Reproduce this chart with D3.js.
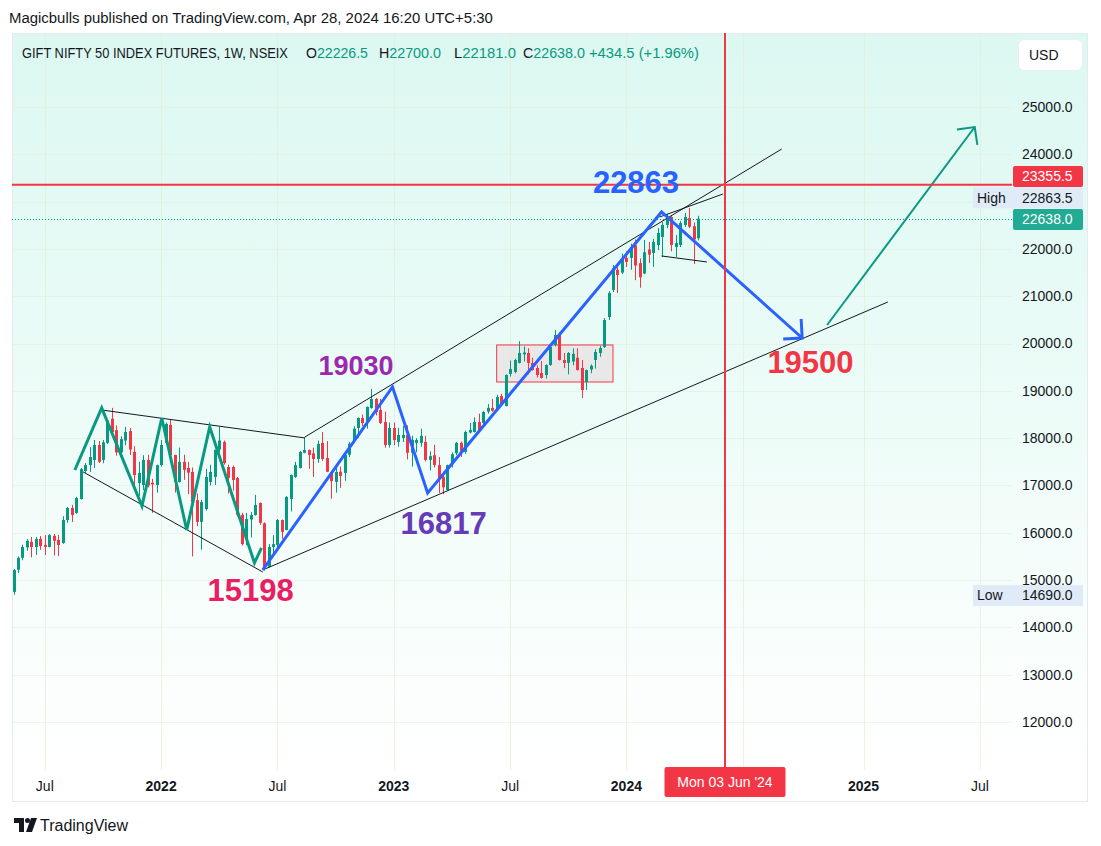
<!DOCTYPE html>
<html><head><meta charset="utf-8">
<script src="https://cdn.jsdelivr.net/npm/d3@7"></script>
<style>
html,body{margin:0;padding:0;background:#fff;}
svg{display:block;font-family:"Liberation Sans",Arial,sans-serif;}
</style>
</head><body>
<svg id="chart" width="1101" height="846"></svg>
<script>
// ---------- DATA (weekly GIFT NIFTY futures) ----------
const firstWeek = "2021-05-17";
const open = [14750,15220,15470,15690,15810,15700,15870,15745,15700,15935,
15850,15785,16270,16525,16420,16715,17305,17430,17540,17855,
17540,17900,18410,18170,17700,17950,18150,17710,17050,17010,
17540,17060,17010,17430,17900,18280,17645,17075,17500,17370,
17285,16690,16230,16500,17075,17180,17760,17920,17390,17390,
17158,16380,15880,16280,16375,16630,16200,15280,15700,15745,
16270,16060,16715,17180,17370,17690,17750,17680,17560,17900,
17580,17280,17075,17290,17265,17650,17950,18215,18426,18342,
18638,18828,18595,18342,17856,18215,17920,18004,18067,17690,
17900,17900,17920,17540,17640,17430,17180,16905,17450,17680,
17900,17710,18120,18130,18340,18320,18560,18640,18596,18891,
18680,19356,19400,19590,19770,19800,19590,19483,19377,19335,
19547,19970,20180,19652,19590,19620,19700,19483,19187,19450,
19652,19800,19927,20561,21132,21560,21500,21810,21810,22080,
21700,21480,21990,21914,22083,22253,22506,22675,22040,22083,
22506,22650,22480,22226.5];
const high = [15230,15500,15750,15870,15910,15910,15930,15950,15975,15975,
15955,16350,16545,16590,16760,17370,17475,17810,17960,17940,
17960,18380,18640,18270,18040,18240,18215,17830,17500,17640,
17650,17140,17440,17960,18330,18400,17650,17800,17650,17500,
17380,16830,16700,17350,17440,17760,18240,17950,17440,17420,
17180,16420,16420,16440,16800,16640,16220,15760,15950,16290,
16280,16770,17230,17500,17730,18025,17760,17800,17950,18130,
17940,17300,17450,17400,17660,17920,18250,18440,18500,18670,
19040,18850,18830,18560,18330,18330,18220,18260,18270,18050,
18000,18200,18050,17720,17860,17600,17290,17440,17700,17920,
17930,18160,18320,18440,18520,18570,18720,18830,18920,18940,
19350,19640,19680,20050,19940,19900,19700,19540,19630,19560,
19960,20287,20240,19800,19820,19900,19900,19650,19450,19560,
19880,19950,20540,21110,21660,21700,21900,21950,22110,22200,
21800,22190,22150,22210,22443,22570,22740,22717,22294,22590,
22760,22863.5,22560,22700];
const low = [14690,15150,15420,15620,15480,15530,15640,15530,15690,15520,
15510,15765,16210,16230,16400,16700,17265,17285,17370,17475,
17470,17880,18060,17630,17620,17850,17645,17000,16780,16900,
16960,16420,16850,17400,17880,17580,16850,17060,17120,16820,
15500,16140,15640,16470,17000,17010,17700,17440,16830,16890,
16340,15730,15740,15900,16360,16170,15198,15270,15520,15670,
15870,16050,16450,17160,17360,17680,17350,17180,17480,17520,
17280,16720,16850,16950,17100,17600,17900,18000,18250,18200,
18620,18480,18300,17800,17800,17850,17820,17920,17550,17400,
17700,17820,17510,17320,17380,16840,16817,16890,17380,17640,
17600,17670,18100,18120,18120,18240,18520,18560,18590,18690,
18670,19300,19370,19580,19620,19350,19430,19280,19260,19260,
19530,19940,19640,19480,19350,19540,19430,18850,19020,19370,
19470,19720,19906,20498,21090,21070,21470,21620,21560,21340,
21180,21470,21700,21620,21977,21830,22440,21950,21830,22040,
22464,22440,21680,22181];
const close = [15210,15470,15700,15830,15700,15870,15720,15700,15950,15830,
15740,16270,16525,16375,16735,17345,17430,17600,17855,17500,
17910,18370,18130,17700,17980,18130,17760,17220,17265,17540,
17000,17020,17430,17855,18300,17645,17075,17500,17330,17270,
16650,16230,16650,17180,17285,17750,17950,17475,17160,17115,
16380,15760,16290,16375,16590,16210,15280,15700,15760,16270,
16020,16760,17220,17430,17710,17750,17645,17560,17880,17560,
17290,17090,17285,17200,17645,17880,18200,18426,18320,18659,
18828,18553,18320,17856,18215,17960,18067,18067,17690,17960,
17960,18050,17540,17620,17430,17158,16960,17430,17660,17900,
17690,18130,18175,18342,18170,18553,18640,18580,18870,18700,
19335,19462,19652,19800,19810,19590,19440,19335,19272,19547,
19927,20180,19652,19590,19800,19780,19440,19018,19440,19530,
19821,19906,20498,21069,21597,21450,21780,21725,22040,21650,
21400,21930,21880,22147,22337,22506,22675,22083,22125,22548,
22675,22470,22200,22638];

const priceTicks = [12000,13000,14000,15000,16000,17000,18000,19000,20000,21000,22000,23000,24000,25000];
const timeTickDates = ["2021-07-05","2022-01-03","2022-07-04","2023-01-02","2023-07-03","2024-01-01","2024-07-01","2025-01-06","2025-07-07"];
const timeTickLabels = ["Jul","2022","Jul","2023","Jul","2024","Jul","2025","Jul"];

// drawings (date, price)
const greenWave = [["2021-08-21",17327],["2021-10-02",18638],["2021-12-04",16566],["2022-01-04",18426],["2022-02-12",16059],["2022-03-20",18236],["2022-05-29",15362],["2022-06-09",15679]];
const blueWave = [["2022-06-11",15214],["2022-12-31",19082],["2023-02-24",16841],["2024-02-25",22781],["2024-10-02",20117]];
const greenArrow = [["2024-11-10",20392],["2025-06-29",24577]];
const trendLines = [
  [["2021-10-02",18595],["2022-08-16",18004]],
  [["2021-09-03",17285],["2022-06-11",15171]],
  [["2022-06-11",15214],["2025-02-13",20878]],
  [["2022-08-16",18025],["2024-08-31",24112]],
  [["2024-02-22",22675],["2024-05-31",23161]],
  [["2024-02-25",21851],["2024-05-06",21724]]
];
const rangeBox = [["2023-06-12",19970],["2023-12-11",19187]];
const waveLabels = [
  {text:"22863", date:"2024-01-16", price:23182, color:"#2962ff", size:31},
  {text:"19030", date:"2022-11-04", price:19335, color:"#9c27b0", size:27},
  {text:"16817", date:"2023-03-21", price:15974, color:"#673ab7", size:31},
  {text:"15198", date:"2022-05-23", price:14558, color:"#e91e63", size:31},
  {text:"19500", date:"2024-10-15", price:19378, color:"#f23645", size:31}
];
const resistance = 23355.5, lastPrice = 22638.0, highPrice = 22863.5, lowPrice = 14690.0;
const crosshairDate = "2024-06-03", crosshairLabel = "Mon 03 Jun '24";

// ---------- CHART ----------
const parse = d3.utcParse("%Y-%m-%d");
const start = parse(firstWeek);
const data = open.map((o,i)=>({date:d3.utcDay.offset(start,7*i), o, h:high[i], l:low[i], c:close[i]}));

const F = {l:12, r:1088, t:33, b:770, ab:802, pr:1012};
const x = d3.scaleUtc().domain([parse("2021-05-17"), parse("2024-04-22")]).range([13.5, 698]);
const y = d3.scaleLinear().domain([12000,25000]).range([722,107]);
const UP="#089981", DOWN="#f23645";

const svg = d3.select("#chart");
const defs = svg.append("defs");
const gr = defs.append("linearGradient").attr("id","bg").attr("x1",0).attr("y1",0).attr("x2",0).attr("y2",1);
gr.append("stop").attr("offset","0").attr("stop-color","#dcf8f1");
gr.append("stop").attr("offset","0.55").attr("stop-color","#eefcf8");
gr.append("stop").attr("offset","1").attr("stop-color","#ffffff");
defs.append("clipPath").attr("id","plotclip").append("rect").attr("x",F.l).attr("y",F.t).attr("width",F.r-F.l).attr("height",F.b-F.t);

svg.append("rect").attr("width",1101).attr("height",846).attr("fill","#fff");
svg.append("rect").attr("x",F.l).attr("y",F.t).attr("width",F.r-F.l).attr("height",F.b-F.t).attr("fill","url(#bg)");
svg.append("rect").attr("x",F.l+0.5).attr("y",F.t+0.5).attr("width",F.r-F.l-1).attr("height",F.ab-F.t-1).attr("fill","none").attr("stroke","#e6e9ee");

const plot = svg.append("g").attr("clip-path","url(#plotclip)");

// grid
plot.selectAll("line.vg").data(timeTickDates).join("line")
  .attr("x1",d=>Math.round(x(parse(d)))+0.5).attr("x2",d=>Math.round(x(parse(d)))+0.5)
  .attr("y1",F.t).attr("y2",F.b).attr("stroke","#e3ecd9").attr("stroke-opacity",0.7);
plot.selectAll("line.hg").data(priceTicks).join("line")
  .attr("x1",F.l).attr("x2",F.pr).attr("y1",d=>Math.round(y(d))+0.5).attr("y2",d=>Math.round(y(d))+0.5)
  .attr("stroke","#e3ecd9").attr("stroke-opacity",0.5);

// range box
plot.append("rect")
  .attr("x",x(parse(rangeBox[0][0]))).attr("y",y(rangeBox[0][1]))
  .attr("width",x(parse(rangeBox[1][0]))-x(parse(rangeBox[0][0])))
  .attr("height",y(rangeBox[1][1])-y(rangeBox[0][1]))
  .attr("fill","rgba(232,226,228,0.75)").attr("stroke","#f23645").attr("stroke-width",1);

// candles
const cg = plot.append("g");
cg.selectAll("line").data(data).join("line")
  .attr("x1",d=>Math.round(x(d.date))+0.5).attr("x2",d=>Math.round(x(d.date))+0.5)
  .attr("y1",d=>y(d.h)).attr("y2",d=>y(d.l))
  .attr("stroke",d=>d.c>=d.o?UP:DOWN).attr("stroke-width",1);
cg.selectAll("rect").data(data).join("rect")
  .attr("x",d=>Math.round(x(d.date))-1).attr("width",3)
  .attr("y",d=>y(Math.max(d.o,d.c))).attr("height",d=>Math.max(1,Math.abs(y(d.o)-y(d.c))))
  .attr("fill",d=>d.c>=d.o?UP:DOWN);

const pt = p=>[x(parse(p[0])), y(p[1])];
const lineGen = d3.line();

// trend lines
plot.selectAll("path.tl").data(trendLines).join("path")
  .attr("d",d=>lineGen(d.map(pt))).attr("fill","none").attr("stroke","#131722").attr("stroke-width",1);

// green wave
plot.append("path").attr("d",lineGen(greenWave.map(pt))).attr("fill","none")
  .attr("stroke","#089981").attr("stroke-width",3).attr("stroke-linejoin","miter");

function arrowHead(tip, from, len){
  const a = Math.atan2(from[1]-tip[1], from[0]-tip[0]);
  const p1 = [tip[0]+len*Math.cos(a+Math.PI/4), tip[1]+len*Math.sin(a+Math.PI/4)];
  const p2 = [tip[0]+len*Math.cos(a-Math.PI/4), tip[1]+len*Math.sin(a-Math.PI/4)];
  return lineGen([p1,tip,p2]);
}
// blue wave
const bw = blueWave.map(pt);
plot.append("path").attr("d",lineGen(bw)).attr("fill","none")
  .attr("stroke","#2962ff").attr("stroke-width",3).attr("stroke-linejoin","miter");
plot.append("path").attr("d",arrowHead(bw[bw.length-1], bw[bw.length-2], 19)).attr("fill","none")
  .attr("stroke","#2962ff").attr("stroke-width",3);
// green arrow
const ga = greenArrow.map(pt);
plot.append("path").attr("d",lineGen(ga)).attr("fill","none").attr("stroke","#089981").attr("stroke-width",2);
plot.append("path").attr("d",arrowHead(ga[1], ga[0], 18)).attr("fill","none").attr("stroke","#089981").attr("stroke-width",2);

// price lines
plot.append("line").attr("x1",F.l).attr("x2",F.pr).attr("y1",y(resistance)).attr("y2",y(resistance))
  .attr("stroke","#f23645").attr("stroke-width",2);
plot.append("line").attr("x1",F.l).attr("x2",F.pr).attr("y1",Math.round(y(lastPrice))+0.5).attr("y2",Math.round(y(lastPrice))+0.5)
  .attr("stroke","#089981").attr("stroke-width",1).attr("stroke-dasharray","1,2");
const cx = Math.round(x(parse(crosshairDate)));
svg.append("line").attr("x1",cx).attr("x2",cx).attr("y1",F.t).attr("y2",F.b)
  .attr("stroke","#f23645").attr("stroke-width",2);

// wave labels
plot.selectAll("text.wl").data(waveLabels).join("text")
  .attr("x",d=>x(parse(d.date))).attr("y",d=>y(d.price))
  .attr("text-anchor","middle").attr("font-weight","bold").attr("font-size",d=>d.size)
  .attr("fill",d=>d.color).text(d=>d.text);

// price axis: tags first (positions), then tick labels that are not hidden by a tag
const tags = [
  {yc:y(resistance)-8.3, label:null, val:resistance, bg:"#f23645", fg:"#ffffff"},
  {yc:y(highPrice)-10.4, label:"High", val:highPrice, bg:"#e1ebf8", fg:"#131722"},
  {yc:y(lastPrice)+0.8, label:null, val:lastPrice, bg:"#22ab94", fg:"#ffffff"},
  {yc:y(lowPrice)+0.8, label:"Low", val:lowPrice, bg:"#e1ebf8", fg:"#131722"}
];
const shownTicks = priceTicks.filter(v=>tags.every(t=>Math.abs(y(v)-t.yc)>=15));
svg.append("g").selectAll("text").data(shownTicks).join("text")
  .attr("x",1022).attr("y",d=>y(d)).attr("dy","0.35em").attr("font-size",14).attr("fill","#131722")
  .text(d=>d.toFixed(1));
tags.forEach(t=>{
  const g = svg.append("g");
  if(t.label){
    g.append("rect").attr("x",973).attr("y",t.yc-10.5).attr("width",40).attr("height",21).attr("fill",t.bg);
    g.append("text").attr("x",977).attr("y",t.yc).attr("dy","0.35em").attr("font-size",14).attr("fill","#131722").text(t.label);
  }
  g.append("rect").attr("x",1013).attr("y",t.yc-10.5).attr("width",70).attr("height",21).attr("rx",t.label?0:2).attr("fill",t.bg);
  g.append("text").attr("x",1022).attr("y",t.yc).attr("dy","0.35em").attr("font-size",14).attr("fill",t.fg).text(t.val.toFixed(1));
});

// USD button
svg.append("rect").attr("x",1018.5).attr("y",39.5).attr("width",64).attr("height",31).attr("rx",6)
  .attr("fill","#ffffff").attr("stroke","#eceff2");
svg.append("text").attr("x",1029).attr("y",55).attr("dy","0.35em").attr("font-size",14).attr("fill","#131722").text("USD");

// time axis (labels under the crosshair date tag are hidden, as in TradingView)
const boxW = 121;
const timeTicks = timeTickDates.map((d,i)=>({x:x(parse(d)), label:timeTickLabels[i]}))
  .filter(t=>Math.abs(t.x-cx) > boxW/2 + 10);
svg.append("g").selectAll("text").data(timeTicks).join("text")
  .attr("x",d=>d.x).attr("y",791).attr("text-anchor","middle").attr("font-size",14)
  .attr("font-weight",d=>/^\d+$/.test(d.label)?"bold":"normal")
  .attr("fill","#131722").text(d=>d.label);
svg.append("rect").attr("x",cx-boxW/2).attr("y",767).attr("width",boxW).attr("height",30).attr("rx",2).attr("fill","#f23645");
svg.append("text").attr("x",cx).attr("y",786.5).attr("text-anchor","middle").attr("font-size",14).attr("fill","#fff").text(crosshairLabel);

// header (horizontally condensed to match TradingView's narrow font)
function fitText(sel, x0, y0, width){
  const n = sel.node();
  const w = n.getComputedTextLength();
  sel.attr("x",0).attr("y",0).attr("transform",`translate(${x0},${y0}) scale(${width/w},1)`);
}
fitText(svg.append("text").attr("font-size",14).attr("fill","#131722")
  .text("Magicbulls published on TradingView.com, Apr 28, 2024 16:20 UTC+5:30"), 9, 23, 484);
const hy = 58;
fitText(svg.append("text").attr("font-size",14).attr("fill","#131722")
  .text("GIFT NIFTY 50 INDEX FUTURES, 1W, NSEIX"), 22, hy, 266);
const ohlc = [["O","22226.5",306],["H","22700.0",379],["L","22181.0",454],["C","22638.0",523]];
ohlc.forEach(([k,v,px])=>{
  const t = svg.append("text").attr("font-size",14);
  t.append("tspan").attr("fill","#131722").text(k);
  t.append("tspan").attr("fill","#089981").text(v);
  fitText(t, px, hy, 62);
});
fitText(svg.append("text").attr("font-size",14).attr("fill","#089981").text("+434.5 (+1.96%)"), 589, hy, 110);

// footer logo
const lg = svg.append("g").attr("fill","#131722");
lg.append("path").attr("d","M14 818 H24 V832 H19 V823 H14 Z");
lg.append("circle").attr("cx",27.5).attr("cy",820.5).attr("r",2.5);
lg.append("path").attr("d","M31 818 H37 L32 832 H26 Z");
svg.append("text").attr("x",40).attr("y",831).attr("font-size",16).attr("fill","#131722").text("TradingView");
</script>
</body></html>
